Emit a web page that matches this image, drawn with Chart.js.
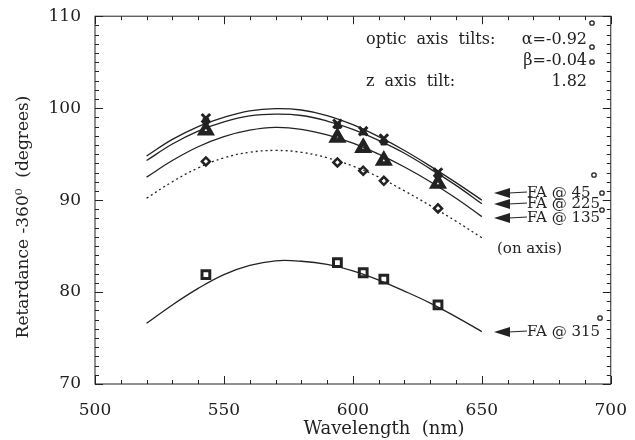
<!DOCTYPE html>
<html>
<head>
<meta charset="utf-8">
<script src="https://cdn.jsdelivr.net/npm/chart.js@4.4.1/dist/chart.umd.min.js"></script>
<style>
  body { margin: 0; background: #fff; }
  #wrap { width: 635px; height: 440px; }
</style>
</head>
<body>
<div id="wrap"><canvas id="chart"></canvas></div>
<script>
// fitted curves, read every 10 nm
const curveWl = [520, 530, 540, 550, 560, 570, 580, 590, 600, 610, 620, 630, 640, 650];
const fa45Curve = [94.8, 96.6, 98.0, 99.0, 99.7, 99.95, 99.8, 99.2, 98.2, 96.9, 95.4, 93.7, 91.9, 90.0];
const fa225Curve = [94.3, 96.1, 97.5, 98.5, 99.15, 99.35, 99.2, 98.6, 97.7, 96.5, 95.1, 93.4, 91.6, 89.6];
const fa135Curve = [92.5, 94.3, 95.8, 96.9, 97.6, 97.9, 97.7, 97.1, 96.2, 95.0, 93.6, 92.0, 90.2, 88.2];
const onAxisCurve = [90.2, 92.0, 93.5, 94.6, 95.2, 95.4, 95.2, 94.6, 93.7, 92.5, 91.0, 89.4, 87.7, 85.9];
const fa315Curve = [76.6, 78.6, 80.4, 81.9, 82.9, 83.4, 83.35, 83.0, 82.3, 81.3, 80.1, 78.8, 77.3, 75.7];

// measured points
const markerWl = [543, 594, 604, 612, 633];
const fa45Pts = [98.9, 98.3, 97.5, 96.7, 93.0];
const fa225Pts = [98.6, 98.1, 97.4, 96.3, 92.7];
const fa135Pts = [97.6, 96.8, 95.7, 94.3, 91.8];
const onAxisPts = [94.2, 94.1, 93.2, 92.1, 89.1];
const fa315Pts = [81.9, 83.2, 82.1, 81.4, 78.6];

const xTicks = [500, 550, 600, 650, 700];
const yTicks = [70, 80, 90, 100, 110];

const ink = '#222';
const serif = '"DejaVu Serif", "Liberation Serif", serif';

const pairs = (xs, ys) => xs.map((x, i) => ({ x: x, y: ys[i] }));

function curve(vals, dash) {
    return {
        type: 'line',
        data: pairs(curveWl, vals),
        borderColor: ink,
        borderWidth: 1.3,
        borderDash: dash || [],
        pointRadius: 0,
        tension: 0.4,
        fill: false
    };
}

function marks(vals, style, radius, fillCol, bw) {
    return {
        type: 'scatter',
        data: pairs(markerWl, vals),
        pointStyle: style,
        pointRadius: radius,
        pointBackgroundColor: fillCol,
        pointBorderColor: ink,
        pointBorderWidth: bw
    };
}

// axis titles, labels, arrows, degree circles and inward ticks
const decor = {
    id: 'decor',
    afterDraw(chart) {
        const ctx = chart.ctx;
        const a = chart.chartArea;
        const xs = chart.scales.x, ys = chart.scales.y;
        ctx.save();
        ctx.strokeStyle = ink;
        ctx.fillStyle = ink;
        ctx.lineWidth = 1;
        ctx.strokeRect(a.left, a.top, a.right - a.left, a.bottom - a.top);

        for (let v = 500; v <= 700; v += 10) {
            const px = Math.round(xs.getPixelForValue(v)) + 0.5;
            const len = v % 50 === 0 ? 8 : 4;
            ctx.beginPath();
            ctx.moveTo(px, a.bottom); ctx.lineTo(px, a.bottom - len);
            ctx.moveTo(px, a.top); ctx.lineTo(px, a.top + len);
            ctx.stroke();
        }
        for (let v = 70; v <= 110; v += 1) {
            const py = Math.round(ys.getPixelForValue(v)) + 0.5;
            const len = v % 10 === 0 ? 8 : 4;
            ctx.beginPath();
            ctx.moveTo(a.left, py); ctx.lineTo(a.left + len, py);
            ctx.moveTo(a.right, py); ctx.lineTo(a.right - len, py);
            ctx.stroke();
        }

        // axis titles
        ctx.textBaseline = 'middle';
        ctx.textAlign = 'center';
        ctx.font = '18px ' + serif;
        ctx.fillText('Wavelength  (nm)', 384, 429);
        ctx.save();
        ctx.translate(24, 217);
        ctx.rotate(-Math.PI / 2);
        ctx.font = '17px ' + serif;
        ctx.fillText('Retardance -360\u2070  (degrees)', 0, 0);
        ctx.restore();

        ctx.font = '16px ' + serif;
        ctx.textAlign = 'left';
        ctx.fillText('optic  axis  tilts:', 366, 40);
        ctx.fillText('z  axis  tilt:', 366, 82);
        ctx.textAlign = 'right';
        ctx.fillText('\u03b1=-0.92', 587, 40);
        ctx.fillText('\u03b2=-0.04', 587, 61);
        ctx.fillText('1.82', 587, 82);

        ctx.font = '15px ' + serif;
        const rows = [
            ['FA @ 45', 193],
            ['FA @ 225', 204],
            ['FA @ 135', 218],
            ['FA @ 315', 332]
        ];
        ctx.textAlign = 'left';
        rows.forEach(r => {
            const y = r[1];
            ctx.beginPath();
            ctx.moveTo(494, y);
            ctx.lineTo(510, y - 5);
            ctx.lineTo(510, y + 5);
            ctx.closePath();
            ctx.fill();
            ctx.beginPath();
            ctx.moveTo(509, y); ctx.lineTo(527, y - 1);
            ctx.stroke();
            ctx.fillText(r[0], 527, y);
        });
        ctx.fillText('(on axis)', 497, 249);

        ctx.lineWidth = 1.3;
        [[592, 23], [592, 47], [592, 62], [594, 175], [602, 193], [602, 210], [600, 318]].forEach(c => {
            ctx.beginPath();
            ctx.arc(c[0], c[1], 2.2, 0, Math.PI * 2);
            ctx.stroke();
        });
        ctx.restore();
    }
};

new Chart(document.getElementById('chart'), {
    data: {
        datasets: [
            curve(fa45Curve),
            curve(fa225Curve),
            curve(fa135Curve),
            curve(onAxisCurve, [2, 3]),
            curve(fa315Curve),
            marks(fa225Pts, 'rect', 4, ink, 1),
            marks(fa45Pts, 'crossRot', 6, ink, 3),
            marks(fa135Pts, 'triangle', 6, '#fff', 4.5),
            marks(onAxisPts, 'rectRot', 4, '#fff', 2.5),
            marks(fa315Pts, 'rect', 5.5, '#fff', 3)
        ]
    },
    options: {
        responsive: true,
        maintainAspectRatio: false,
        animation: false,
        layout: { padding: { left: 0, right: 15, top: 8, bottom: 0 } },
        plugins: { legend: { display: false }, tooltip: { enabled: false } },
        scales: {
            x: {
                type: 'linear',
                min: 500, max: 700,
                afterBuildTicks: s => { s.ticks = xTicks.map(v => ({ value: v })); },
                afterFit: s => { s.height = 56; },
                grid: { display: false },
                border: { display: false },
                ticks: { color: ink, padding: 8, maxRotation: 0, font: { family: serif, size: 17 } }
            },
            y: {
                type: 'linear',
                min: 70, max: 110,
                afterBuildTicks: s => { s.ticks = yTicks.map(v => ({ value: v })); },
                afterFit: s => { s.width = 95; },
                grid: { display: false },
                border: { display: false },
                ticks: { color: ink, padding: 6, font: { family: serif, size: 17 } }
            }
        }
    },
    plugins: [decor]
});
</script>
</body>
</html>
